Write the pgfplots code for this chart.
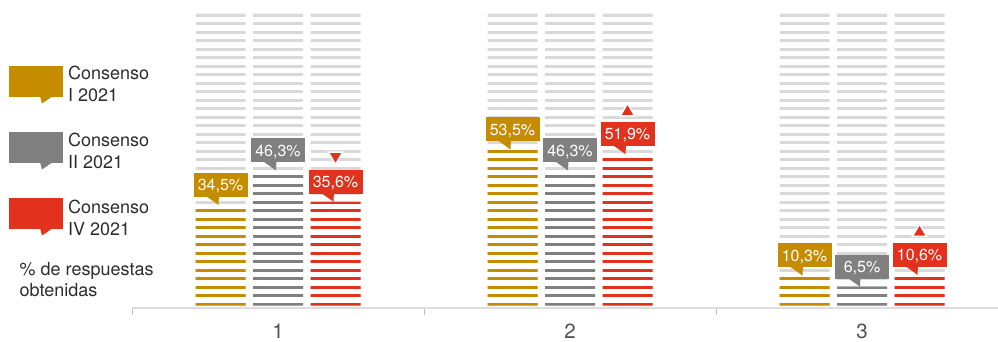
\documentclass[border=0pt]{standalone}
\usepackage{pgfplots}
\usepackage{pgfplotstable}
\pgfplotsset{compat=1.18}
\usepackage{fontspec}
\setmainfont{TeX Gyre Heros}

\definecolor{cgold}{RGB}{197,140,0}
\definecolor{cgray}{RGB}{128,128,128}
\definecolor{cred}{RGB}{226,50,30}
\definecolor{cstripe}{RGB}{217,217,217}
\definecolor{caxis}{RGB}{221,221,221}
\definecolor{ctext}{RGB}{45,45,45}
\definecolor{ctick}{RGB}{80,80,80}

% % de respuestas obtenidas por consenso
\pgfplotstableread{
g  c1    c2    c4
1  34.5  46.3  35.6
2  53.5  46.3  51.9
3  10.3  6.5   10.6
}\consenso

% speech-bubble tail: tip at the plotted point, vertical right edge
\pgfdeclareplotmark{calltail}{%
  \pgfpathmoveto{\pgfqpoint{0pt}{0pt}}%
  \pgfpathlineto{\pgfqpoint{0.4pt}{8.6pt}}%
  \pgfpathlineto{\pgfqpoint{-12pt}{8.6pt}}%
  \pgfpathclose
  \pgfusepathqfill}

\newcommand\labelfont{\fontsize{16}{16}\selectfont}
\newcommand\legfont{\fontsize{18}{18}\selectfont}
\newcommand\tickfont{\fontsize{20.5}{20.5}\selectfont}

\pgfplotsset{
  bg bar/.style={ybar, bar width=50pt, bar shift=#1pt, fill=cstripe, draw=none},
  val bar/.style 2 args={ybar, bar width=50pt, bar shift=#2pt, fill=#1, draw=none},
  % the bubble box inherits the marker shift, so it only undoes the 2pt tail offset
  callout/.style 2 args={only marks, mark=calltail, color=#1,
    mark options={xshift={#2pt-2pt}},
    nodes near coords={\pgfmathprintnumber[fixed,fixed zerofill,precision=1,use comma]{\pgfplotspointmeta}\%},
    nodes near coords style={fill=#1, text=white, anchor=south, xshift=2pt, yshift=8pt,
      minimum width=54pt, minimum height=24pt, inner sep=0pt,
      text height=11.5pt, text depth=0pt, font=\labelfont}},
}

\begin{document}
\begin{tikzpicture}[x=1pt,y=1pt]
\useasboundingbox (0,0) rectangle (998,341);
\begin{axis}[
  at={(132pt,33.3pt)}, anchor=south west,
  scale only axis, width=866.1pt, height=307.7pt,
  xmin=0.5, xmax=3.466, ymin=-0.68, ymax=104.69,
  clip=false,
  axis y line=none,
  axis x line*=bottom,
  axis line style={draw=caxis, line width=2pt},
  xtick={1,2,3}, minor xtick={0.5,1.5,2.5},
  major tick length=0pt, minor tick length=7pt,
  tick align=outside,
  minor tick style={draw=caxis!85!black, line width=1pt},
  xticklabel style={anchor=base, yshift=-30.6pt, inner sep=0pt, font=\tickfont, text=ctick},
  /pgf/number format/assume math mode=true,
]
% full-height grey columns
\pgfplotsinvokeforeach{-57.5,0,57.5}{
  \addplot[bg bar=#1] coordinates {(1,100) (2,100) (3,100)};
}
% values
\addplot[val bar={cgold}{-57.5}] table[x=g,y=c1]{\consenso};
\addplot[val bar={cgray}{0}]     table[x=g,y=c2]{\consenso};
\addplot[val bar={cred}{57.5}]   table[x=g,y=c4]{\consenso};
% horizontal white gaps that turn the columns into stripes
\pgfplotsinvokeforeach{0,...,33}{
  \fill[white] (axis cs:0.7,{#1*2.911+1.03}) rectangle (axis cs:3.466,{(#1+1)*2.911});
}
% value callouts
\addplot[callout={cgold}{-57.5}] table[x=g,y=c1]{\consenso};
\addplot[callout={cgray}{0}]     table[x=g,y=c2]{\consenso};
\addplot[callout={cred}{57.5}]   table[x=g,y=c4]{\consenso};
% change markers (IV vs II)
\addplot[only marks, mark=triangle*, mark size=8.3pt,
  mark options={xshift=57.5pt, yshift=45.5pt, rotate=180, fill=cred, draw=white, line width=1.5pt}]
  coordinates {(1,35.6)};
\addplot[only marks, mark=triangle*, mark size=8.3pt,
  mark options={xshift=57.5pt, yshift=42.5pt, fill=cred, draw=white, line width=1.5pt}]
  coordinates {(2,51.9) (3,10.6)};
\end{axis}

% legend
\fill[cgold] (8.5,275.5) rectangle (62.5,244.5);
\fill[cgold] (40,245) -- (53,245) -- (42,237.5) -- cycle;
\fill[cgray] (8.5,209.5) rectangle (62.5,178.5);
\fill[cgray] (40,179) -- (53,179) -- (42,171.5) -- cycle;
\fill[cred] (8.5,143.5) rectangle (62.5,112.5);
\fill[cred] (40,113) -- (53,113) -- (42,105.5) -- cycle;
\begin{scope}[every node/.style={anchor=base west, inner sep=0pt, font=\legfont, text=ctext}]
\node at (68,261.7) {Consenso};
\node at (68,240) {I 2021};
\node at (68,194.5) {Consenso};
\node at (68,172.7) {II 2021};
\node at (68,127.7) {Consenso};
\node at (68,106) {IV 2021};
\node at (19.5,66) {\% de respuestas};
\node at (19.5,44.3) {obtenidas};
\end{scope}
\end{tikzpicture}
\end{document}
